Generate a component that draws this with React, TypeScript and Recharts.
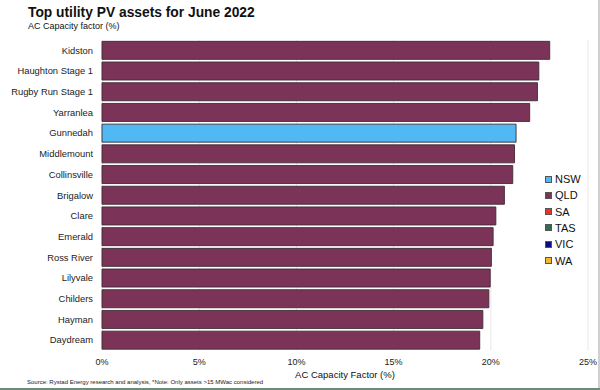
import React from "react";
import { BarChart, Bar, XAxis, YAxis, CartesianGrid, Cell } from "recharts";

const assets = [
  "Kidston",
  "Haughton Stage 1",
  "Rugby Run Stage 1",
  "Yarranlea",
  "Gunnedah",
  "Middlemount",
  "Collinsville",
  "Brigalow",
  "Clare",
  "Emerald",
  "Ross River",
  "Lilyvale",
  "Childers",
  "Hayman",
  "Daydream",
];
const capacityFactor = [23.03, 22.47, 22.4, 22.0, 21.3, 21.22, 21.13, 20.7, 20.26, 20.12, 20.03, 19.97, 19.9, 19.59, 19.43];
const assetState = ["QLD", "QLD", "QLD", "QLD", "NSW", "QLD", "QLD", "QLD", "QLD", "QLD", "QLD", "QLD", "QLD", "QLD", "QLD"];

const states = ["NSW", "QLD", "SA", "TAS", "VIC", "WA"];
const stateColors = ["#50B9F4", "#7B3458", "#E5362B", "#2F6E52", "#0B0B84", "#F1B733"];
const xTicks = [0, 5, 10, 15, 20, 25];

const data = assets.map((name, i) => ({ name, value: capacityFactor[i], state: assetState[i] }));
const colorOf = (s: string) => stateColors[states.indexOf(s)];

const FONT = "Liberation Sans, Arial, Helvetica, sans-serif";

const YTick = (props: any) => {
  const { x, y, payload } = props;
  return (
    <text x={x} y={y} dy="0.35em" textAnchor="end" fontSize={9.4} fill="#222" fontFamily={FONT}>
      {payload.value}
    </text>
  );
};

export default function App() {
  return (
    <div style={{ position: "absolute", left: 0, top: 0, width: 600, height: 390, background: "#fff", fontFamily: FONT, overflow: "hidden" }}>
      <div style={{ position: "absolute", left: 28, top: 5, fontSize: 13.8, fontWeight: "bold", color: "#111", whiteSpace: "nowrap" }}>
        Top utility PV assets for June 2022
      </div>
      <div style={{ position: "absolute", left: 28, top: 21, fontSize: 9, color: "#111", whiteSpace: "nowrap" }}>
        AC Capacity factor (%)
      </div>
      <BarChart
        width={600}
        height={390}
        data={data}
        layout="vertical"
        margin={{ top: 40, right: 12, bottom: 0, left: 2 }}
        barCategoryGap="6.5%"
        style={{ position: "absolute", left: 0, top: 0 }}
      >
        <CartesianGrid horizontal={false} vertical={true} stroke="#e8e8e8" />
        <XAxis
          type="number"
          domain={[0, 25]}
          ticks={xTicks}
          tickFormatter={(v: number) => `${v}%`}
          axisLine={false}
          tickLine={false}
          height={39.5}
          tick={{ fontSize: 9, fill: "#222", fontFamily: FONT }}
        />
        <YAxis
          type="category"
          dataKey="name"
          width={100}
          axisLine={false}
          tickLine={false}
          tickMargin={3}
          interval={0}
          tick={<YTick />}
        />
        <Bar dataKey="value" isAnimationActive={false} stroke="#3f2a35" strokeWidth={0.9}>
          {data.map((d, i) => (
            <Cell key={i} fill={colorOf(d.state)} />
          ))}
        </Bar>
      </BarChart>
      <div style={{ position: "absolute", left: 102, width: 486, top: 369, textAlign: "center", fontSize: 9.5, color: "#111", whiteSpace: "nowrap" }}>
        AC Capacity Factor (%)
      </div>
      <div style={{ position: "absolute", left: 27, top: 379, fontSize: 6, color: "#222", whiteSpace: "nowrap" }}>
        Source: Rystad Energy research and analysis, *Note: Only assets &gt;15 MWac considered
      </div>
      {states.map((s, i) => (
        <div key={s} style={{ position: "absolute", left: 545, top: 172 + i * 16.3, height: 14, display: "flex", alignItems: "center", whiteSpace: "nowrap" }}>
          <span style={{ display: "inline-block", width: 5, height: 5, background: stateColors[i], border: "0.8px solid #555", marginRight: 3 }} />
          <span style={{ fontSize: 11, color: "#111" }}>{s}</span>
        </div>
      ))}
      <div style={{ position: "absolute", left: 598, top: 0, width: 2, height: 390, background: "#d0d0d0" }} />
      <div style={{ position: "absolute", left: 0, top: 388, width: 600, height: 2, background: "#6e8a78" }} />
    </div>
  );
}
